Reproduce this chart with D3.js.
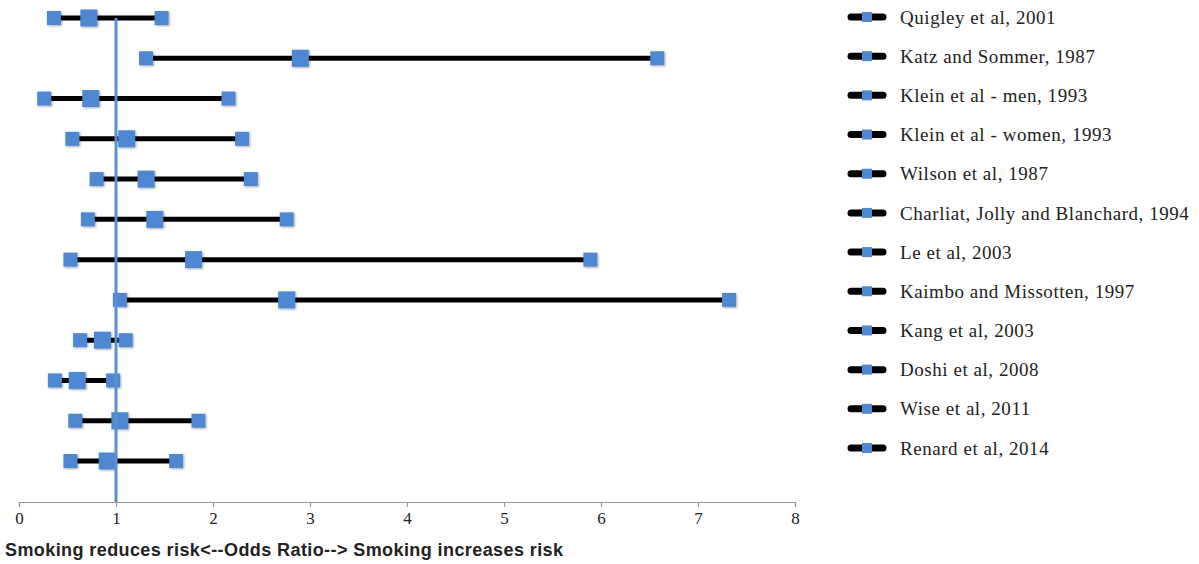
<!DOCTYPE html>
<html>
<head>
<meta charset="utf-8">
<title>Smoking odds ratio forest plot</title>
<script src="https://cdn.jsdelivr.net/npm/d3@7"></script>
<style>
	body { margin: 0; background: #fff; }
	.tick text { font-family: "Liberation Serif", serif; font-size: 17px; fill: #222; }
	.legend text { font-family: "Liberation Serif", serif; font-size: 19px; letter-spacing: 0.55px; fill: #222; }
	.title { font-family: "Liberation Sans Narrow", "Liberation Sans", sans-serif; font-weight: bold; font-size: 18px; fill: #222; }
</style>
</head>
<body>
<svg id="chart" width="1199" height="564"></svg>
<script>
var studies = ['Quigley et al, 2001', 'Katz and Sommer, 1987', 'Klein et al - men, 1993',
	'Klein et al - women, 1993', 'Wilson et al, 1987', 'Charliat, Jolly and Blanchard, 1994',
	'Le et al, 2003', 'Kaimbo and Missotten, 1997', 'Kang et al, 2003', 'Doshi et al, 2008',
	'Wise et al, 2011', 'Renard et al, 2014'];
var lower = [0.36, 1.31, 0.26, 0.55, 0.80, 0.71, 0.53, 1.04, 0.63, 0.37, 0.58, 0.53];
var oddsRatio = [0.72, 2.90, 0.74, 1.11, 1.31, 1.40, 1.80, 2.76, 0.86, 0.60, 1.04, 0.91];
var upper = [1.47, 6.58, 2.16, 2.30, 2.39, 2.76, 5.89, 7.32, 1.10, 0.97, 1.85, 1.62];
var xTicks = [0, 1, 2, 3, 4, 5, 6, 7, 8];

var svg = d3.select('#chart');
var blue = '#4f88d2';

var x = d3.scaleLinear().domain([0, 8]).range([19, 795]);
var y = d3.scalePoint().domain(studies).range([18, 461]);

// axis
var axis = svg.append('g')
	.attr('transform', 'translate(0,502)')
	.call(d3.axisBottom(x).tickValues(xTicks).tickSize(5).tickPadding(5).tickFormat(d3.format('d')));
axis.select('.domain').attr('stroke', '#999').attr('stroke-width', 1.2);
axis.selectAll('.tick line').attr('stroke', '#999').attr('stroke-width', 1.2);

// shadow for markers
var defs = svg.append('defs');
var f = defs.append('filter').attr('id', 'sh').attr('x', '-30%').attr('y', '-30%').attr('width', '170%').attr('height', '170%');
f.append('feDropShadow').attr('dx', 1).attr('dy', 1).attr('stdDeviation', 1).attr('flood-color', '#000').attr('flood-opacity', 0.35);

var rows = studies.map((s, i) => ({ name: s, lo: lower[i], or: oddsRatio[i], hi: upper[i] }));

var g = svg.append('g');
g.selectAll('line.ci')
	.data(rows)
	.enter()
	.append('line')
	.attr('class', 'ci')
	.attr('x1', d => x(d.lo))
	.attr('x2', d => x(d.hi))
	.attr('y1', d => y(d.name))
	.attr('y2', d => y(d.name))
	.attr('stroke', '#000')
	.attr('stroke-width', 5);

function square(val, size) {
	g.selectAll(null)
		.data(rows)
		.enter()
		.append('rect')
		.attr('x', d => x(d[val]) - size / 2)
		.attr('y', d => y(d.name) - size / 2)
		.attr('width', size)
		.attr('height', size)
		.attr('fill', blue)
		.attr('filter', 'url(#sh)');
}
square('lo', 14);
square('hi', 14);
square('or', 17);

// reference line at OR = 1
svg.append('line')
	.attr('x1', x(1)).attr('x2', x(1))
	.attr('y1', y(studies[0])).attr('y2', 502)
	.attr('stroke', '#5a8fd0')
	.attr('stroke-width', 3);

// legend
var ly = d3.scalePoint().domain(studies).range([17, 448]);
var leg = svg.append('g').attr('class', 'legend');
var item = leg.selectAll('g')
	.data(studies)
	.enter()
	.append('g')
	.attr('transform', d => 'translate(0,' + ly(d) + ')');
item.append('line')
	.attr('x1', 851).attr('x2', 883)
	.attr('stroke', '#000').attr('stroke-width', 7).attr('stroke-linecap', 'round');
item.append('rect')
	.attr('x', 862).attr('y', -5).attr('width', 10).attr('height', 10)
	.attr('fill', blue);
item.append('text')
	.attr('x', 900)
	.attr('dy', '0.35em')
	.text(d => d);

svg.append('text')
	.attr('class', 'title')
	.attr('x', 5)
	.attr('y', 556)
	.attr('textLength', 558)
	.attr('lengthAdjust', 'spacing')
	.text('Smoking reduces risk<--Odds Ratio--> Smoking increases risk');
</script>
</body>
</html>
